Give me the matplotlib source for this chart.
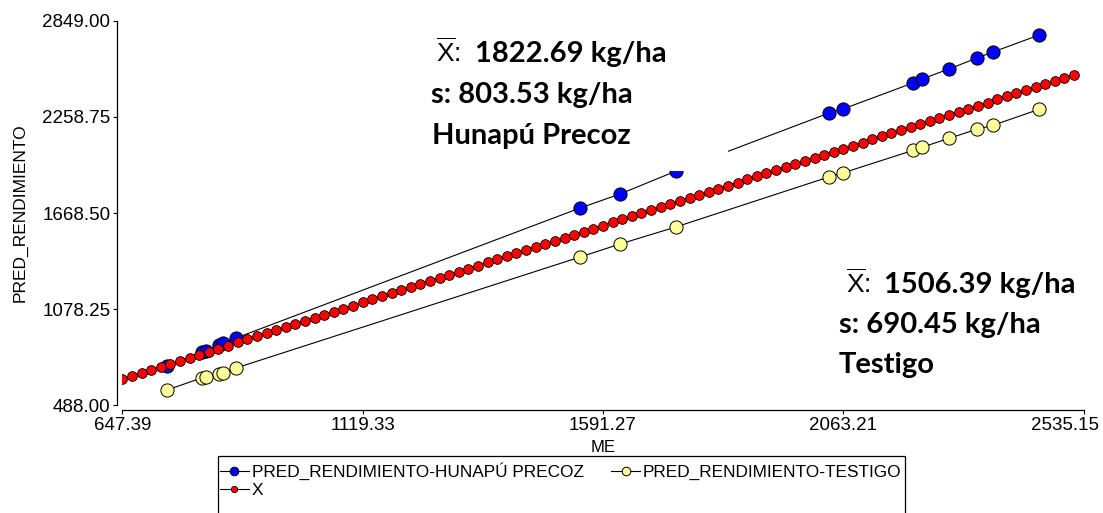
import matplotlib
matplotlib.use("Agg")
import matplotlib.pyplot as plt
import matplotlib.transforms as mtransforms
from matplotlib.patches import Rectangle

W, H = 1103, 513

# ---------------- data ----------------
me = [735.2, 803.3, 811.8, 836.4, 845.7, 870.7, 1546.1, 1624.7, 1734.6,
      2035.1, 2062.6, 2200.1, 2217.7, 2270.8, 2325.7, 2357.2, 2447.5]
pred_hunapu = [729, 815, 821, 858, 870, 901, 1699, 1785, 1926,
               2282, 2307, 2467, 2491, 2553, 2620, 2657, 2761]
pred_testigo = [582, 656, 662, 680, 686, 717, 1398, 1478, 1583,
                1890, 1915, 2053, 2072, 2127, 2183, 2207, 2305]

# linea X (y = ME)
x_me = [647.4, 666.3, 685.2, 704.0, 722.9, 741.8, 760.7, 779.5, 798.4, 817.3,
        836.2, 855.0, 873.9, 892.8, 911.7, 930.6, 949.4, 968.3, 987.2, 1006.1,
        1024.9, 1043.8, 1062.7, 1081.6, 1100.5, 1119.3, 1138.2, 1157.1, 1176.0, 1194.8,
        1213.7, 1232.6, 1251.5, 1270.4, 1289.2, 1308.1, 1327.0, 1345.9, 1364.7, 1383.6,
        1402.5, 1421.4, 1440.3, 1459.1, 1478.0, 1496.9, 1515.8, 1534.6, 1553.5, 1572.4,
        1591.3, 1610.2, 1629.0, 1647.9, 1666.8, 1685.7, 1704.5, 1723.4, 1742.3, 1761.2,
        1780.1, 1798.9, 1817.8, 1836.7, 1855.6, 1874.4, 1893.3, 1912.2, 1931.1, 1949.9,
        1968.8, 1987.7, 2006.6, 2025.5, 2044.3, 2063.2, 2082.1, 2101.0, 2119.8, 2138.7,
        2157.6, 2176.5, 2195.4, 2214.2, 2233.1, 2252.0, 2270.9, 2289.7, 2308.6, 2327.5,
        2346.4, 2365.3, 2384.1, 2403.0, 2421.9, 2440.8, 2459.6, 2478.5, 2497.4, 2516.3]
x_line = list(x_me)

xticks = [647.39, 1119.33, 1591.27, 2063.21, 2535.15]
yticks = [488.00, 1078.25, 1668.50, 2258.75, 2849.00]

lbl_hunapu = "PRED_RENDIMIENTO-HUNAPÚ PRECOZ"
lbl_testigo = "PRED_RENDIMIENTO-TESTIGO"
lbl_x = "X"

# ---------------- helpers ----------------
def fx(px):
    return px / W

def fy(py):
    return 1 - py / H

plt.rcParams["font.family"] = ["Liberation Sans", "DejaVu Sans"]

fig = plt.figure(figsize=(W / 100, H / 100), dpi=100)
ax = fig.add_axes([fx(122.3), fy(405.3), (1083.7 - 122.3) / W, (405.3 - 20.7) / H])

h1, = ax.plot(me, pred_hunapu, "-o", color="black", lw=0.8, ms=9.5,
              mfc="#0000FF", mec="black", mew=0.7, label=lbl_hunapu, zorder=2)
h2, = ax.plot(me, pred_testigo, "-o", color="black", lw=0.8, ms=9.5,
              mfc="#FFFF99", mec="black", mew=0.7, label=lbl_testigo, zorder=2)
h3, = ax.plot(x_me, x_line, "-o", color="black", lw=0.8, ms=7,
              mfc="#FF0000", mec="black", mew=0.6, label=lbl_x, zorder=3)

ax.set_xlim(xticks[0], xticks[-1])
ax.set_ylim(yticks[0], yticks[-1])
ax.set_xticks(xticks, [f"{v:.2f}" for v in xticks])
ax.set_yticks(yticks, [f"{v:.2f}" for v in yticks])
ax.tick_params(direction="out", length=3, width=0.8, pad=2, labelsize=13.5)
for s in ["top", "right"]:
    ax.spines[s].set_visible(False)
for s in ["left", "bottom"]:
    ax.spines[s].set_position(("outward", 3.6))
    ax.spines[s].set_linewidth(0.9)

# la ultima etiqueta del eje x se corre a la izquierda para que quepa
last = ax.get_xticklabels()[-1]
last.set_transform(last.get_transform() +
                   mtransforms.ScaledTranslation(-19 / 100, 0, fig.dpi_scale_trans))

ax.set_xlabel("ME", fontsize=12, labelpad=4)
ax.set_ylabel("PRED_RENDIMIENTO", fontsize=12.5)
ax.yaxis.set_label_coords(-0.098, 0.5)
ax.patch.set_visible(False)

# caja blanca detras del texto de Hunapu (tapa parte de la linea)
fig.patches.append(Rectangle((fx(425), fy(171)), fx(728) - fx(425), fy(20) - fy(171),
                             transform=fig.transFigure, facecolor="white",
                             edgecolor="none", zorder=1))

bold = dict(fontfamily=["Lato", "DejaVu Sans"], fontweight="bold", fontsize=21,
            va="baseline", ha="left", zorder=5)
xbar = dict(fontfamily=["Liberation Sans", "DejaVu Sans"], fontsize=19,
            va="baseline", ha="left", zorder=5)

fig.text(fx(436), fy(62), r"$\overline{\mathregular{X}}$:", **xbar)
fig.text(fx(475), fy(62), "1822.69 kg/ha", **bold)
fig.text(fx(431), fy(103), "s: 803.53 kg/ha", **bold)
fig.text(fx(432), fy(144), "Hunapú Precoz", **bold)

fig.text(fx(846), fy(293), r"$\overline{\mathregular{X}}$:", **xbar)
fig.text(fx(884), fy(293), "1506.39 kg/ha", **bold)
fig.text(fx(839), fy(333), "s: 690.45 kg/ha", **bold)
fig.text(fx(839), fy(373), "Testigo", **bold)

# leyenda
fig.patches.append(Rectangle((fx(218), fy(540)), fx(905) - fx(218), fy(456) - fy(540),
                             transform=fig.transFigure, facecolor="white",
                             edgecolor="black", lw=0.9, zorder=1))
leg = fig.legend([h1, h3, h2], [lbl_hunapu, lbl_x, lbl_testigo], ncol=2,
                 loc="upper left", bbox_to_anchor=(fx(218), fy(461)),
                 borderaxespad=0, frameon=False, fontsize=12.4, handlelength=1.7,
                 handletextpad=0.15, columnspacing=1.6, labelspacing=0.15,
                 borderpad=0.1, markerscale=0.65)
leg.set_zorder(6)

fig.savefig("out.png", dpi=100)
